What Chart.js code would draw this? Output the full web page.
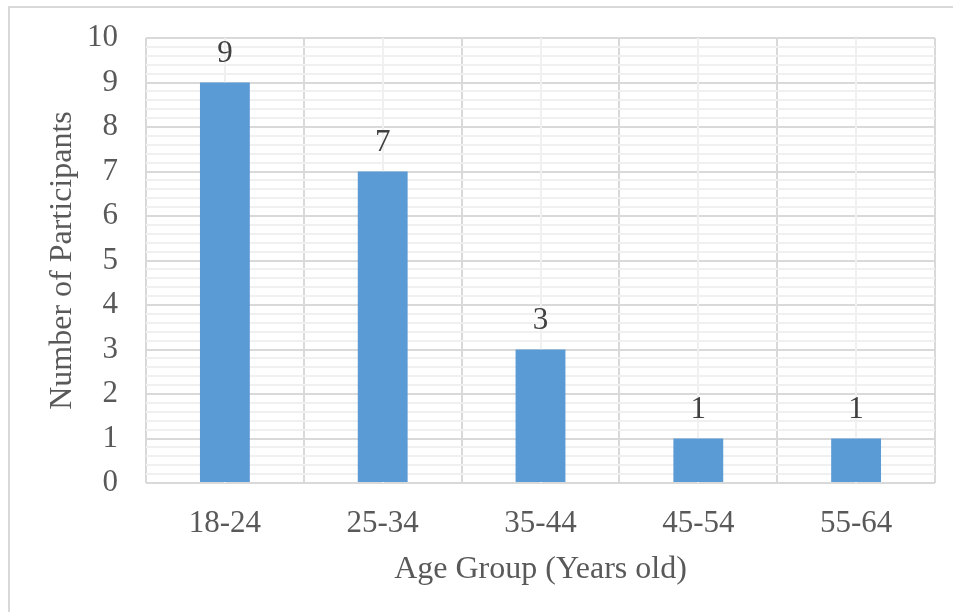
<!DOCTYPE html>
<html>
<head>
<meta charset="utf-8">
<script src="https://cdn.jsdelivr.net/npm/chart.js@4/dist/chart.umd.min.js"></script>
<style>
  html, body { margin: 0; padding: 0; background: #ffffff; }
  #wrap { position: relative; width: 953px; height: 612px; overflow: hidden; }
  #frame { position: absolute; left: 8px; top: 6px; right: -4px; bottom: -4px;
           border-left: 2px solid #d9d9d9; border-top: 2px solid #d9d9d9; }
  #chart { position: absolute; left: 0; top: 0; }
</style>
</head>
<body>
<div id="wrap">
  <div id="frame"></div>
  <canvas id="chart" width="953" height="612"></canvas>
</div>
<script>
// Participants per age group
const ageGroups = ['18-24', '25-34', '35-44', '45-54', '55-64'];
const participants = [9, 7, 3, 1, 1];
const yMin = 0;
const yMax = 10;
const yMinorStep = 0.2;

const SERIF = "'Liberation Serif', 'Times New Roman', serif";
const TEXT = '#595959';
const MAJOR = '#d9d9d9';
const MINOR = '#f0f0f0';

const isWhole = v => Math.abs(v - Math.round(v)) < 1e-6;

// Light vertical lines through the middle of each category
const centreLines = {
  id: 'centreLines',
  beforeDatasetsDraw(chart) {
    const { ctx, chartArea, scales } = chart;
    ctx.save();
    ctx.strokeStyle = MINOR;
    ctx.lineWidth = 2;
    ageGroups.forEach((_, i) => {
      const x = Math.round(scales.x.getPixelForTick(i));
      ctx.beginPath();
      ctx.moveTo(x, chartArea.top);
      ctx.lineTo(x, chartArea.bottom);
      ctx.stroke();
    });
    ctx.restore();
  }
};

// Value printed above each bar
const barValues = {
  id: 'barValues',
  afterDatasetsDraw(chart) {
    const { ctx } = chart;
    const meta = chart.getDatasetMeta(0);
    ctx.save();
    ctx.font = '31px ' + SERIF;
    ctx.fillStyle = '#404040';
    ctx.textAlign = 'center';
    ctx.textBaseline = 'alphabetic';
    meta.data.forEach((bar, i) => {
      ctx.fillText(String(participants[i]), bar.x, bar.y - 21);
    });
    ctx.restore();
  }
};

new Chart(document.getElementById('chart'), {
  type: 'bar',
  data: {
    labels: ageGroups,
    datasets: [{
      data: participants,
      backgroundColor: '#5b9bd5',
      borderWidth: 0,
      categoryPercentage: 1,
      barPercentage: 0.316
    }]
  },
  options: {
    responsive: false,
    animation: false,
    devicePixelRatio: 1,
    layout: { padding: { left: 0, top: 38, right: 18, bottom: 0 } },
    plugins: { legend: { display: false }, tooltip: { enabled: false } },
    scales: {
      x: {
        grid: { offset: true, color: MAJOR, lineWidth: 2, drawTicks: false },
        border: { display: false },
        ticks: { color: TEXT, font: { family: SERIF, size: 31 }, padding: 22 },
        title: {
          display: true,
          text: 'Age Group (Years old)',
          color: TEXT,
          font: { family: SERIF, size: 32, lineHeight: 1.2 },
          padding: { top: 0, bottom: 23 }
        },
        afterFit(scale) {
          scale.height = 129;
          scale.paddingLeft = 0;
          scale.paddingRight = 0;
        }
      },
      y: {
        min: yMin,
        max: yMax,
        grid: {
          drawTicks: false,
          lineWidth: 2,
          color: c => (c.tick && isWhole(c.tick.value)) ? MAJOR : MINOR
        },
        border: { display: false },
        ticks: {
          stepSize: yMinorStep,
          autoSkip: false,
          maxTicksLimit: 100,
          color: TEXT,
          font: { family: SERIF, size: 31 },
          padding: 28,
          callback: v => isWhole(v) ? String(Math.round(v)) : ''
        },
        title: {
          display: true,
          text: 'Number of Participants',
          color: TEXT,
          font: { family: SERIF, size: 32, lineHeight: 1.2 },
          padding: { top: 43, bottom: 0 }
        },
        afterFit(scale) {
          scale.width = 146;
          scale.paddingTop = 0;
          scale.paddingBottom = 0;
        }
      }
    }
  },
  plugins: [centreLines, barValues]
});
</script>
</body>
</html>
